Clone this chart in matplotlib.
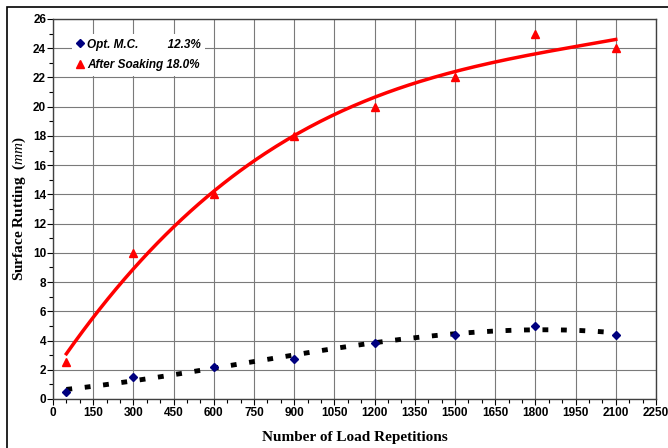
import numpy as np
import matplotlib
matplotlib.use("Agg")
import matplotlib.pyplot as plt
from matplotlib.patches import Rectangle

# load repetitions and measured rut depth (mm)
reps = [50, 300, 600, 900, 1200, 1500, 1800, 2100]
opt_mc = [0.5, 1.5, 2.2, 2.75, 3.85, 4.4, 5.0, 4.4]
soaked = [2.5, 10.0, 14.0, 18.0, 20.0, 22.0, 25.0, 24.0]

plt.rcParams['font.family'] = ['Liberation Sans', 'DejaVu Sans']
plt.rcParams['mathtext.fontset'] = 'custom'
plt.rcParams['mathtext.it'] = 'Liberation Serif:italic'
plt.rcParams['mathtext.rm'] = 'Liberation Serif:bold'

fig = plt.figure(figsize=(6.68, 4.48), dpi=100)
ax = fig.add_axes([0.0793, 0.1094, 0.9027, 0.8482])

# trendlines (polynomial fits)
xs = np.linspace(50, 2100, 200)
red_fit = np.polyval(np.polyfit(reps, soaked, 3), xs)
blk_fit = np.polyval(np.polyfit(reps, opt_mc, 3), xs)

ax.plot(xs, red_fit, color="red", lw=2.5, zorder=3)
ax.plot(xs, blk_fit, color="black", lw=3.5, dashes=(1.2, 2.6), zorder=3)

ax.plot(reps, opt_mc, linestyle="none", marker="D", color="#00007f", ms=4.2,
        label="Opt. M.C.         12.3%", zorder=4)
ax.plot(reps, soaked, linestyle="none", marker="^", color="red", ms=5.5,
        label="After Soaking 18.0%", zorder=4)

ax.set_xlim(0, 2250)
ax.set_ylim(0, 26)
ax.set_xticks(np.arange(0, 2251, 150))
ax.set_xticks(np.arange(0, 2251, 50), minor=True)
ax.set_yticks(np.arange(0, 27, 2))
ax.set_yticks(np.arange(0, 27, 1), minor=True)
ax.grid(True, which="major", color="#7a7a7a", lw=0.8)
ax.set_axisbelow(True)
ax.tick_params(which="major", direction="out", length=4, labelsize=8.5, width=0.8, pad=2)
ax.tick_params(axis="y", which="major", pad=1)
ax.tick_params(which="minor", direction="out", length=3, width=0.8)
for lab in ax.get_xticklabels() + ax.get_yticklabels():
    lab.set_fontweight("bold")
for s in ax.spines.values():
    s.set_color("#404040")
    s.set_linewidth(1)

ax.set_xlabel("Number of Load Repetitions", family="Liberation Serif",
              fontweight="bold", fontsize=11)
ax.xaxis.set_label_coords(0.5, -0.085)
ax.set_ylabel(r"Surface Rutting  $\mathit{(mm)}$", family="Liberation Serif",
              fontweight="bold", fontsize=11)
ax.yaxis.set_label_coords(-0.042, 0.5)

leg = ax.legend(loc="upper left", bbox_to_anchor=(0.022, 0.975), frameon=True,
                fancybox=False, edgecolor="none", handlelength=0.6,
                handletextpad=0.3, labelspacing=0.75, borderpad=0.35,
                prop={"style": "italic", "weight": "bold", "size": 8.5})
leg.get_frame().set_facecolor("white")
leg.get_frame().set_alpha(1)

# outer chart border
fig.patches.append(Rectangle((7 / 668, -0.1), 1.2, 1 - 7 / 448 + 0.1,
                             transform=fig.transFigure, fill=False,
                             edgecolor="black", lw=1.2))

fig.savefig("out.png", dpi=100)
